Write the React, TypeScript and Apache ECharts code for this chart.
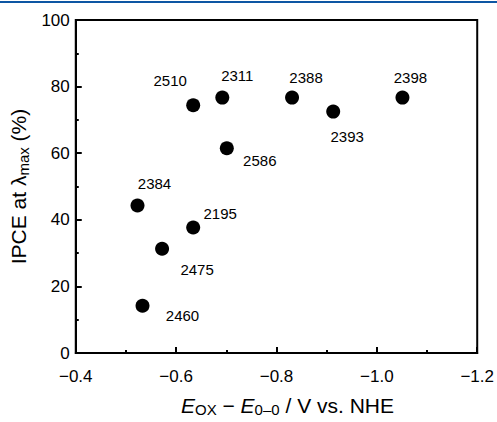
import { useEffect, useRef } from "react";
import * as echarts from "echarts";

// Dye identifiers and their measured values
const dyes = ["2384", "2510", "2311", "2586", "2388", "2393", "2398", "2195", "2475", "2460"];
const potentials = [-0.523, -0.634, -0.692, -0.701, -0.831, -0.913, -1.051, -0.634, -0.572, -0.533];
const ipce = [44.3, 74.4, 76.7, 61.5, 76.7, 72.5, 76.7, 37.7, 31.3, 14.2];

// Axis ranges
const xRange = [-1.2, -0.4];
const xStep = 0.2;
const yRange = [0, 100];
const yStep = 20;

// Where each dye name sits relative to its marker (px)
const labelOffsets: [number, number][] = [
  [17, -22], [-23, -25], [15, -22], [33, 12], [14, -20],
  [14, 25], [8, -20], [27, -14], [35, 21], [40, 10],
];

const FONT = "'Liberation Sans', Arial, Helvetica, sans-serif";

const fmtX = (v: number) => (v < 0 ? "\u2212" : "") + Math.abs(v).toFixed(1);

export default function App() {
  const ref = useRef<HTMLDivElement>(null);

  useEffect(() => {
    if (!ref.current) return;
    const chart = echarts.init(ref.current, undefined, { renderer: "svg" });

    const points = dyes.map((name, i) => ({
      name,
      value: [potentials[i], ipce[i]],
      label: { offset: labelOffsets[i] },
    }));

    chart.setOption({
      animation: false,
      backgroundColor: "#ffffff",
      textStyle: { fontFamily: FONT },
      graphic: [
        {
          type: "rect",
          left: 0,
          top: 1,
          shape: { width: 497, height: 2 },
          style: { fill: "#0d56a3" },
        },
      ],
      grid: {
        left: 74,
        right: 15,
        top: 20,
        bottom: 66,
        show: true,
        borderColor: "#000",
        borderWidth: 2,
        backgroundColor: "transparent",
      },
      xAxis: {
        type: "value",
        min: xRange[0],
        max: xRange[1],
        interval: xStep,
        inverse: true,
        name: "{i|E}{sub|OX}{n| \u2212 }{i|E}{sub|0\u20130}{n| / V vs. NHE}",
        nameLocation: "middle",
        nameGap: 40,
        nameTextStyle: {
          padding: [0, 0, 0, 22],
          rich: {
            n: { fontSize: 21, color: "#000", fontFamily: FONT },
            i: { fontSize: 21, color: "#000", fontStyle: "italic", fontFamily: FONT },
            sub: { fontSize: 15, color: "#000", fontFamily: FONT, padding: [9, 0, 0, 0] },
          },
        },
        axisLine: { show: true, onZero: false, lineStyle: { color: "#000", width: 2 } },
        axisTick: { show: true, inside: true, length: 6, lineStyle: { color: "#000", width: 2 } },
        minorTick: { show: true, splitNumber: 2, length: 3, lineStyle: { color: "#000", width: 2 } },
        splitLine: { show: false },
        axisLabel: {
          formatter: fmtX,
          fontSize: 17,
          color: "#000",
          margin: 15,
          fontFamily: FONT,
        },
      },
      yAxis: {
        type: "value",
        min: yRange[0],
        max: yRange[1],
        interval: yStep,
        name: "{n|IPCE at \u03bb}{sub|max}{n| (%)}",
        nameLocation: "middle",
        nameRotate: 90,
        nameGap: 36,
        nameTextStyle: {
          rich: {
            n: { fontSize: 21, color: "#000", fontFamily: FONT },
            sub: { fontSize: 15, color: "#000", fontFamily: FONT, padding: [9, 0, 0, 0] },
          },
        },
        axisLine: { show: true, onZero: false, lineStyle: { color: "#000", width: 2 } },
        axisTick: { show: true, inside: true, length: 6, lineStyle: { color: "#000", width: 2 } },
        minorTick: { show: true, splitNumber: 2, length: 3, lineStyle: { color: "#000", width: 2 } },
        splitLine: { show: false },
        axisLabel: {
          fontSize: 17,
          color: "#000",
          margin: 6,
          fontFamily: FONT,
        },
      },
      series: [
        {
          type: "scatter",
          symbol: "circle",
          symbolSize: 14,
          itemStyle: { color: "#000", opacity: 1 },
          label: {
            show: true,
            position: "inside",
            formatter: (p: any) => p.name,
            fontSize: 15,
            color: "#000",
            fontFamily: FONT,
          },
          data: points,
        },
      ],
    });

    return () => chart.dispose();
  }, []);

  return (
    <div
      ref={ref}
      style={{ position: "fixed", left: 0, top: 0, width: 497, height: 422 }}
    />
  );
}
